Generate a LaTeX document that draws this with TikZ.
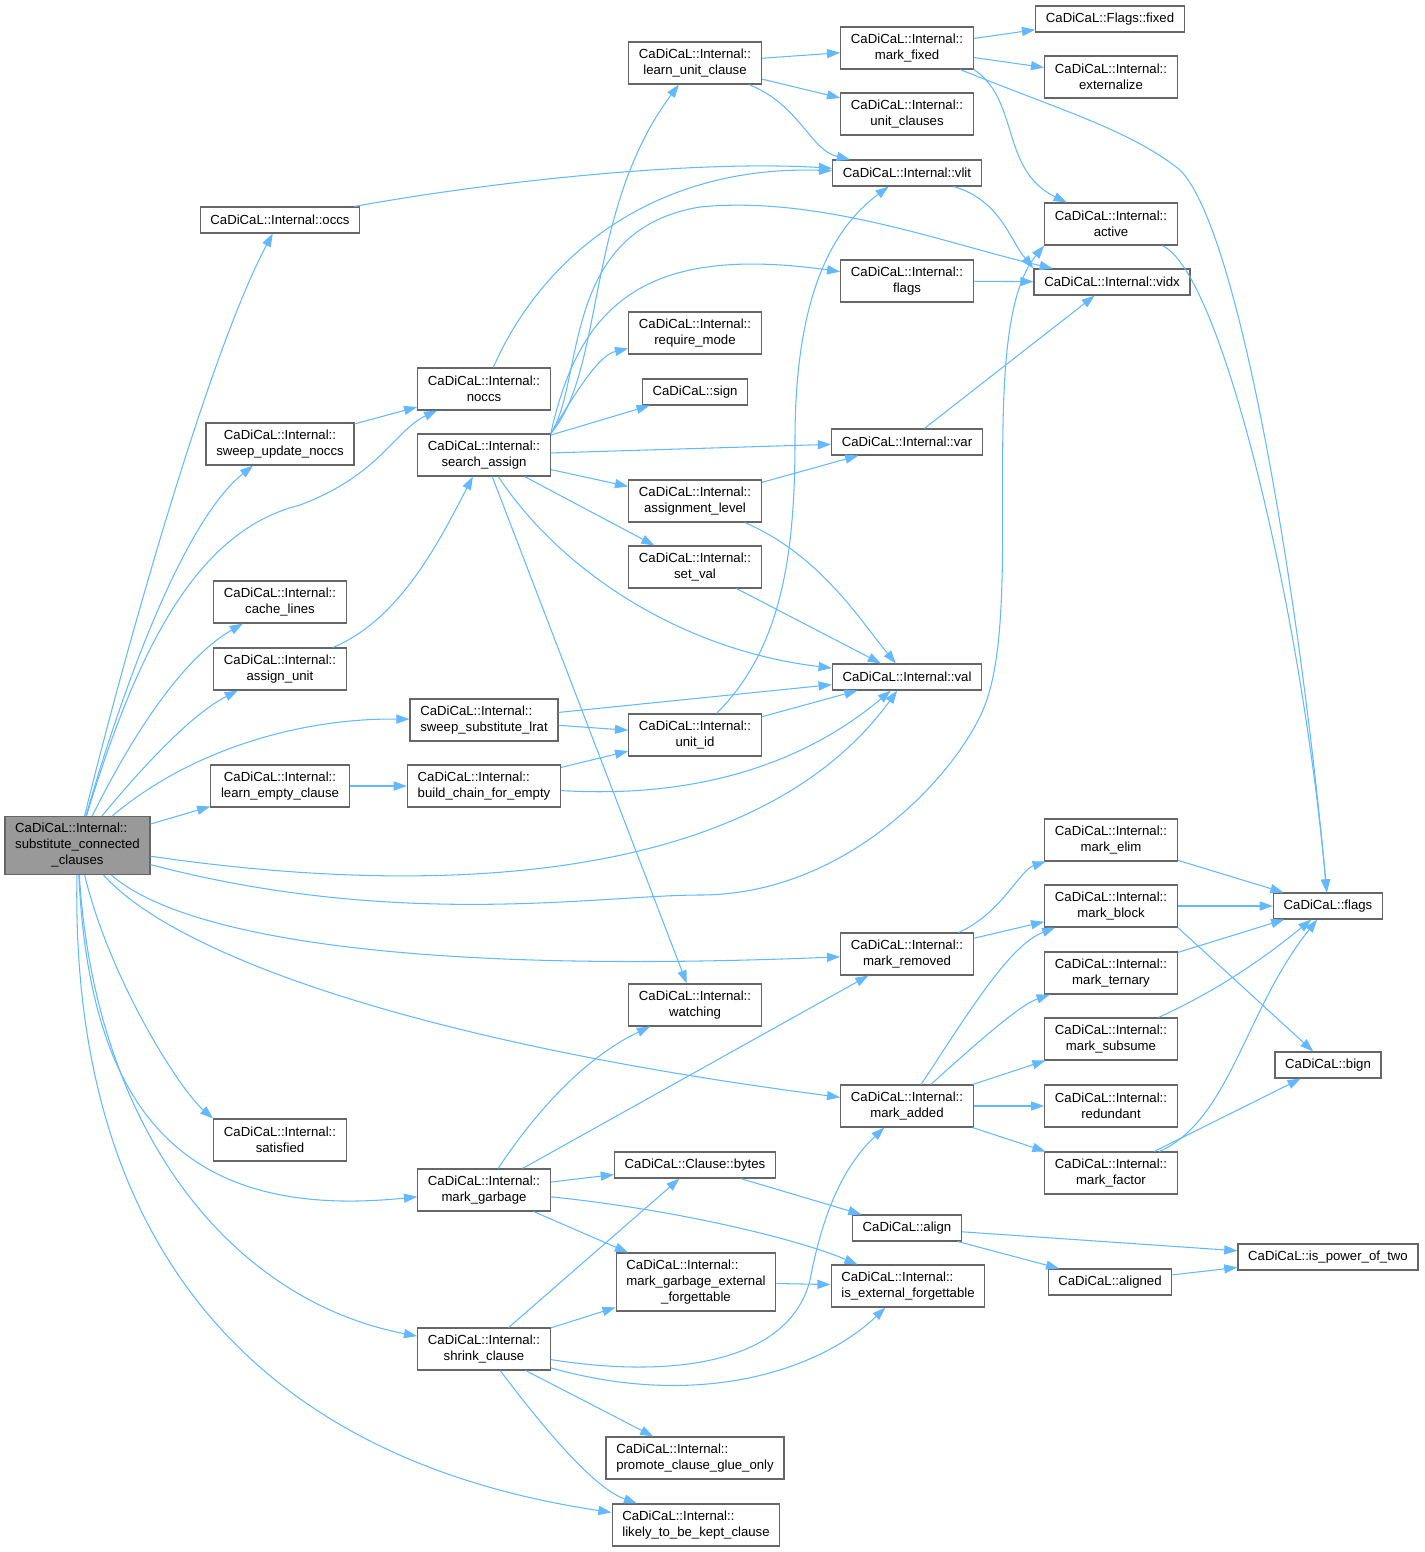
\documentclass[tikz,border=0pt]{standalone}
\usepackage{fontspec}
\setmainfont{Liberation Sans}
\usetikzlibrary{arrows.meta}
\definecolor{edgeblue}{HTML}{63B8FF}
\definecolor{boxgray}{HTML}{666666}
\definecolor{rootgray}{HTML}{999999}
\newcommand{\nodefont}{\fontsize{7.5}{9.07}\selectfont}
\newcommand{\lcc}[3]{\begin{tabular}{@{}l@{}}#1\\#2\\\multicolumn{1}{@{}c@{}}{#3}\end{tabular}}
\tikzset{
  fn/.style={draw=boxgray, line width=0.7pt, fill=white, inner xsep=5.8pt, inner ysep=1pt,
    minimum height=14.7pt, font=\nodefont, align=center},
  fn2/.style={fn, minimum height=23.8pt},
  fn3/.style={fn, minimum height=32.9pt},
  call/.style={-{Triangle[length=7.5pt,width=5.2pt]}, edgeblue, line width=0.6pt}
}
\begin{document}
\begin{tikzpicture}[x=0.02cm, y=-0.02cm]
\useasboundingbox (0,0) rectangle (1425,1552);

\node[fn3, fill=rootgray] (root) at (77.5,845.5) {\lcc{CaDiCaL::Internal::}{substitute\_connected}{\_clauses}};
\node[fn] (occs) at (280,220) {CaDiCaL::Internal::occs};
\node[fn2] (updnoccs) at (280,444) {CaDiCaL::Internal::\\sweep\_update\_noccs};
\node[fn2] (cachelines) at (280,602) {CaDiCaL::Internal::\\cache\_lines};
\node[fn2] (assignunit) at (280,669) {CaDiCaL::Internal::\\assign\_unit};
\node[fn2] (learnempty) at (280,786) {CaDiCaL::Internal::\\learn\_empty\_clause};
\node[fn2] (satisfied) at (280,1140) {CaDiCaL::Internal::\\satisfied};
\node[fn2] (noccs) at (484,389) {CaDiCaL::Internal::\\noccs};
\node[fn2] (searchassign) at (484,455) {CaDiCaL::Internal::\\search\_assign};
\node[fn2, align=left] (sweeplrat) at (484,720) {CaDiCaL::Internal::\\sweep\_substitute\_lrat};
\node[fn2, align=left] (buildchain) at (484,786) {CaDiCaL::Internal::\\build\_chain\_for\_empty};
\node[fn2] (markgarbage) at (484,1190) {CaDiCaL::Internal::\\mark\_garbage};
\node[fn2] (shrink) at (484,1349) {CaDiCaL::Internal::\\shrink\_clause};
\node[fn2] (learnunit) at (695,63) {CaDiCaL::Internal::\\learn\_unit\_clause};
\node[fn2] (requiremode) at (695,333) {CaDiCaL::Internal::\\require\_mode};
\node[fn] (sign) at (695,392) {CaDiCaL::sign};
\node[fn2] (assignlevel) at (695,501) {CaDiCaL::Internal::\\assignment\_level};
\node[fn2] (setval) at (695,567) {CaDiCaL::Internal::\\set\_val};
\node[fn2] (unitid) at (695,735) {CaDiCaL::Internal::\\unit\_id};
\node[fn2] (watching) at (695,1005) {CaDiCaL::Internal::\\watching};
\node[fn] (bytes) at (695,1165) {CaDiCaL::Clause::bytes};
\node[fn3] (mgef) at (696,1282) {\lcc{CaDiCaL::Internal::}{mark\_garbage\_external}{\_forgettable}};
\node[fn2, align=left] (promote) at (695,1458) {CaDiCaL::Internal::\\promote\_clause\_glue\_only};
\node[fn2, align=left] (likely) at (696,1525) {CaDiCaL::Internal::\\likely\_to\_be\_kept\_clause};
\node[fn2] (markfixed) at (907,48) {CaDiCaL::Internal::\\mark\_fixed};
\node[fn2] (unitclauses) at (907,114) {CaDiCaL::Internal::\\unit\_clauses};
\node[fn] (vlit) at (907,173) {CaDiCaL::Internal::vlit};
\node[fn2] (iflags) at (907,281) {CaDiCaL::Internal::\\flags};
\node[fn] (var) at (907,442) {CaDiCaL::Internal::var};
\node[fn] (val) at (907,677) {CaDiCaL::Internal::val};
\node[fn2] (markremoved) at (907,954) {CaDiCaL::Internal::\\mark\_removed};
\node[fn2] (markadded) at (907,1106) {CaDiCaL::Internal::\\mark\_added};
\node[fn] (alignfn) at (907,1228) {CaDiCaL::align};
\node[fn2, align=left] (isext) at (908,1286) {CaDiCaL::Internal::\\is\_external\_forgettable};
\node[fn] (flagsfixed) at (1110,19) {CaDiCaL::Flags::fixed};
\node[fn2] (externalize) at (1111,77) {CaDiCaL::Internal::\\externalize};
\node[fn2] (active) at (1111,224) {CaDiCaL::Internal::\\active};
\node[fn] (vidx) at (1112,282) {CaDiCaL::Internal::vidx};
\node[fn2] (markelim) at (1111,840) {CaDiCaL::Internal::\\mark\_elim};
\node[fn2] (markblock) at (1111,906) {CaDiCaL::Internal::\\mark\_block};
\node[fn2] (markternary) at (1111,973) {CaDiCaL::Internal::\\mark\_ternary};
\node[fn2] (marksubsume) at (1111,1039) {CaDiCaL::Internal::\\mark\_subsume};
\node[fn2] (redundant) at (1111,1106) {CaDiCaL::Internal::\\redundant};
\node[fn2] (markfactor) at (1111,1173) {CaDiCaL::Internal::\\mark\_factor};
\node[fn] (aligned) at (1110,1282) {CaDiCaL::aligned};
\node[fn] (cflags) at (1328,906) {CaDiCaL::flags};
\node[fn] (bign) at (1328,1065) {CaDiCaL::bign};
\node[fn] (pow2) at (1328,1257) {CaDiCaL::is\_power\_of\_two};

\draw[call] (root) .. controls (115,690) and (205,360) .. (occs);
\draw[call] (root) .. controls (125,680) and (185,520) .. (updnoccs);
\draw[call] (root) .. controls (140,640) and (200,530) .. (300,505) .. controls (380,475) and (395,430) .. (noccs);
\draw[call] (root) .. controls (130,740) and (180,660) .. (cachelines);
\draw[call] (root) .. controls (140,770) and (190,715) .. (assignunit);
\draw[call] (root) .. controls (190,750) and (300,718) .. (sweeplrat);
\draw[call] (root) -- (learnempty);
\draw[call] (root) .. controls (450,900) and (760,880) .. (val);
\draw[call] (root) .. controls (400,930) and (600,895) .. (700,895) .. controls (850,895) and (960,770) .. (985,705) .. controls (1025,600) and (975,330) .. (active.south west);
\draw[call] (root) .. controls (180,935) and (400,975) .. (markremoved);
\draw[call] (root) .. controls (170,950) and (400,1040) .. (markadded);
\draw[call] (root) .. controls (110,980) and (180,1090) .. (satisfied.north west);
\draw[call] (root) .. controls (90,1120) and (190,1220) .. (markgarbage);
\draw[call] (root) .. controls (95,1130) and (230,1300) .. (shrink);
\draw[call] (root) .. controls (70,1250) and (260,1460) .. (likely);

\draw[call] (updnoccs) -- (noccs);
\draw[call] (assignunit) .. controls (400,620) and (440,540) .. (searchassign);
\draw[call] (learnempty) -- (buildchain);
\draw[call] (sweeplrat) -- (val);
\draw[call] (sweeplrat) -- (unitid);
\draw[call] (buildchain) -- (unitid);
\draw[call] (buildchain) .. controls (720,800) and (820,750) .. (val);
\draw[call] (unitid) -- (val);
\draw[call] (unitid) .. controls (780,650) and (795,560) .. (795,440) .. controls (795,300) and (830,230) .. (vlit);
\draw[call] (occs) .. controls (500,180) and (700,160) .. (vlit);
\draw[call] (noccs) .. controls (540,260) and (650,165) .. (vlit);

\draw[call] (searchassign.north east) .. controls (605,370) and (585,210) .. (learnunit);
\draw[call] (searchassign.north east) .. controls (585,380) and (560,230) .. (700,207) .. controls (820,195) and (950,245) .. (vidx);
\draw[call] (searchassign.north east) .. controls (580,300) and (650,245) .. (iflags);
\draw[call] (searchassign.north east) .. controls (580,385) and (600,355) .. (requiremode);
\draw[call] (searchassign) -- (sign);
\draw[call] (searchassign) -- (var);
\draw[call] (searchassign) -- (assignlevel);
\draw[call] (searchassign) -- (setval);
\draw[call] (searchassign) .. controls (560,570) and (680,650) .. (val);
\draw[call] (searchassign) -- (watching);

\draw[call] (learnunit) -- (markfixed);
\draw[call] (learnunit) -- (unitclauses);
\draw[call] (learnunit) .. controls (800,105) and (810,150) .. (vlit);
\draw[call] (markfixed) -- (flagsfixed);
\draw[call] (markfixed) -- (externalize);
\draw[call] (markfixed.south east) .. controls (1020,100) and (1000,170) .. (active);
\draw[call] (markfixed) .. controls (1060,110) and (1130,130) .. (1180,170) .. controls (1240,230) and (1300,600) .. (cflags);
\draw[call] (active) .. controls (1220,270) and (1300,600) .. (cflags);
\draw[call] (vlit) .. controls (1000,200) and (1010,240) .. (vidx.north west);
\draw[call] (iflags) -- (vidx);
\draw[call] (var) -- (vidx);
\draw[call] (assignlevel) -- (var);
\draw[call] (assignlevel) .. controls (820,555) and (860,620) .. (val);
\draw[call] (setval) -- (val);

\draw[call] (markremoved) .. controls (1000,915) and (1020,870) .. (markelim);
\draw[call] (markremoved) -- (markblock);
\draw[call] (markelim) -- (cflags);
\draw[call] (markblock) -- (cflags);
\draw[call] (markblock.south east) -- (bign);
\draw[call] (markternary) -- (cflags);
\draw[call] (marksubsume) .. controls (1230,985) and (1280,945) .. (cflags);
\draw[call] (markfactor) .. controls (1230,1120) and (1245,1010) .. (cflags);
\draw[call] (markfactor) -- (bign);
\draw[call] (markadded) .. controls (970,1010) and (1010,945) .. (markblock);
\draw[call] (markadded) .. controls (980,1040) and (1020,1005) .. (markternary);
\draw[call] (markadded) -- (marksubsume);
\draw[call] (markadded) -- (redundant);
\draw[call] (markadded) -- (markfactor);

\draw[call] (markgarbage) .. controls (530,1120) and (580,1060) .. (watching);
\draw[call] (markgarbage) -- (markremoved);
\draw[call] (markgarbage) -- (bytes);
\draw[call] (markgarbage) .. controls (680,1210) and (800,1240) .. (isext);
\draw[call] (markgarbage) -- (mgef);
\draw[call] (bytes) -- (alignfn);
\draw[call] (alignfn) -- (pow2);
\draw[call] (alignfn) -- (aligned);
\draw[call] (aligned) -- (pow2);
\draw[call] (mgef) -- (isext);
\draw[call] (shrink) -- (bytes);
\draw[call] (shrink) -- (mgef);
\draw[call] (shrink) .. controls (680,1380) and (790,1360) .. (810,1280) .. controls (825,1200) and (850,1160) .. (markadded);
\draw[call] (shrink) .. controls (700,1410) and (820,1370) .. (isext);
\draw[call] (shrink) -- (promote);
\draw[call] (shrink) .. controls (560,1450) and (600,1490) .. (likely);
\end{tikzpicture}
\end{document}
